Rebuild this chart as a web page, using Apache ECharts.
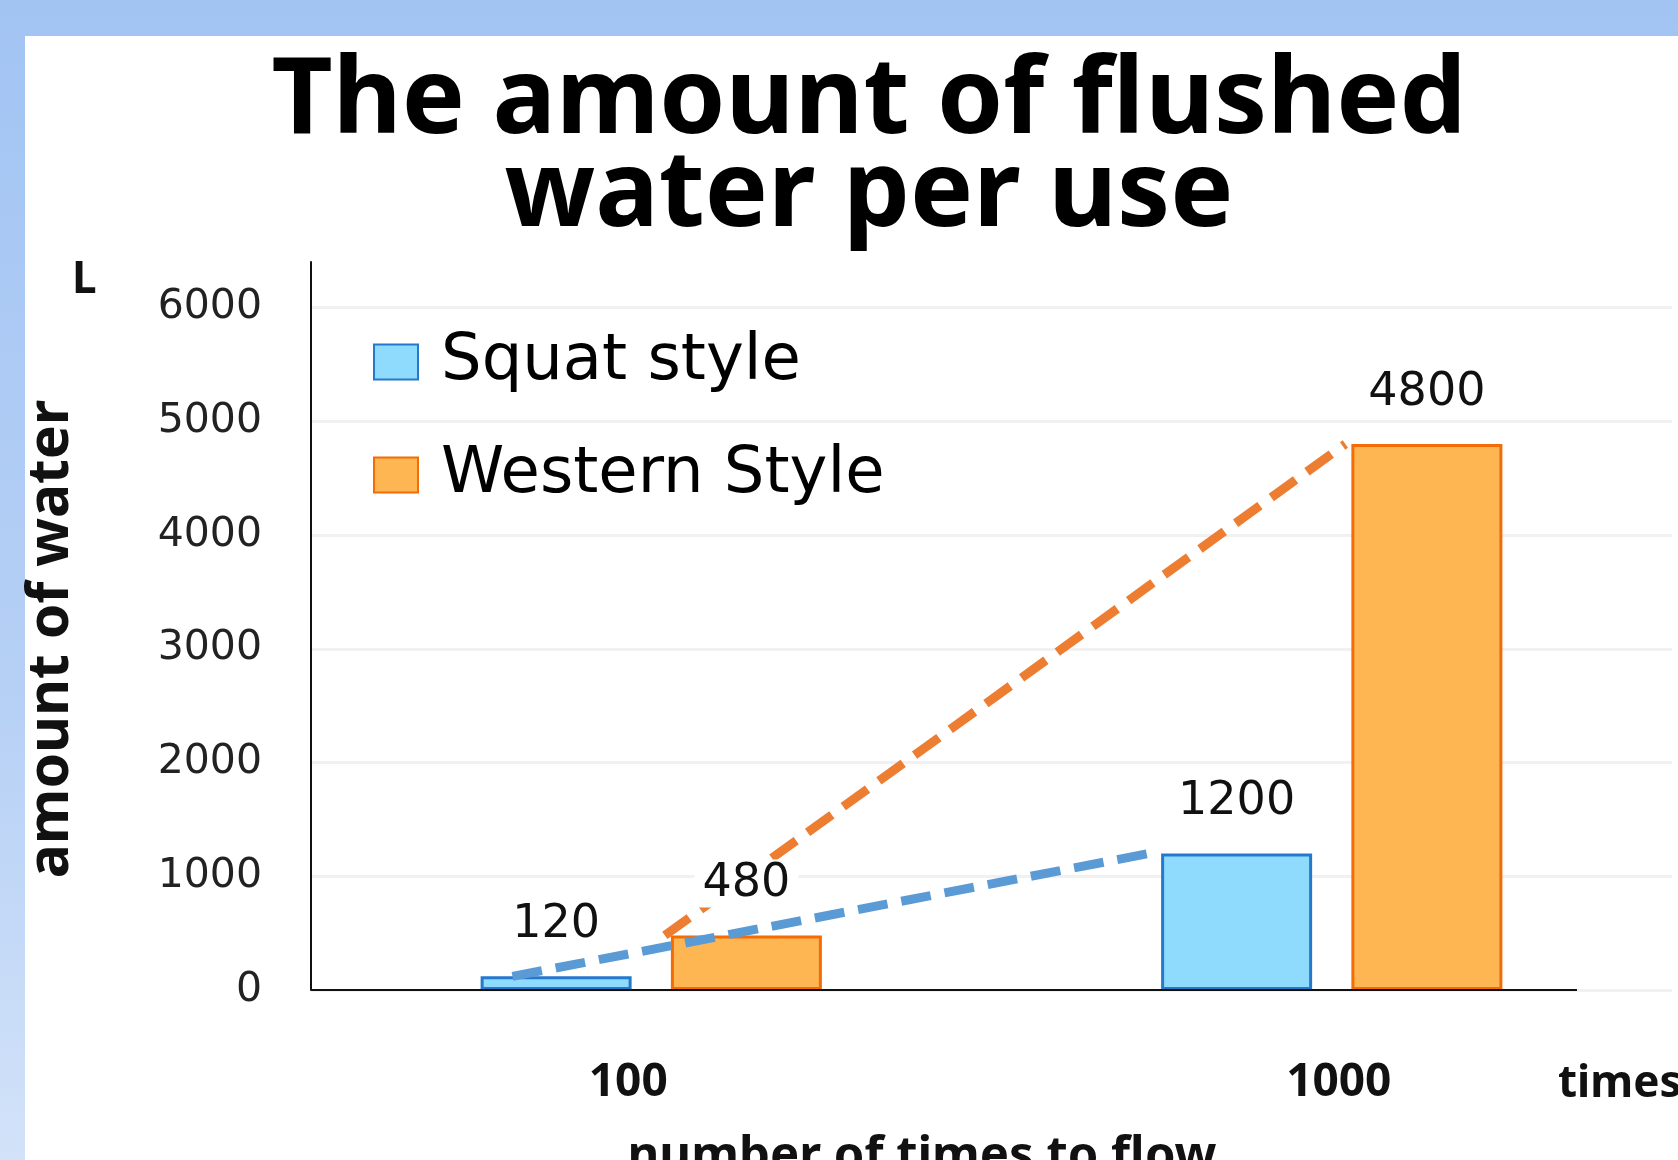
<!DOCTYPE html>
<html lang="en">
<head>
    <meta charset="UTF-8">
    <title>The amount of flushed water per use</title>
    <script src="https://cdn.jsdelivr.net/npm/echarts@6/dist/echarts.min.js"></script>
</head>

<style>
    html, body {
        margin: 0;
        width: 1678px;
        height: 1160px;
        overflow: hidden;
        background: linear-gradient(to bottom, #a2c4f3 0%, #b6d0f5 60%, #d2e2f9 100%);
    }

    #panel {
        position: absolute;
        left: 25px;
        top: 36px;
        right: 0;
        bottom: 0;
        background: #ffffff;
    }

    #Chart1 {
        position: absolute;
        left: 0;
        top: 0;
        width: 1678px;
        height: 1160px;
    }
</style>

<body>
    <div id="panel"></div>
    <div id="Chart1"></div>
</body>

<script>

// data
const categories = ['100', '1000'];
const squat = [120, 1200];
const western = [480, 4800];
const yTicks = [0, 1000, 2000, 3000, 4000, 5000, 6000];

// where the dashed trend lines meet each bar group (offset from category centre, in bands)
const squatTrendOffset = [-0.204, -0.269];
const westernTrendOffset = [0.02, 0.02];

const gridLeft = 311, gridTop = 262, gridBottom = 170, gridRight = 6;
const axisEndX = 1577;

const BLUE_FILL = '#8fdbfd', BLUE_BORDER = '#2479cc';
const ORANGE_FILL = '#fdb652', ORANGE_BORDER = '#f46c05';

let myChart1 = echarts.init(document.getElementById('Chart1'));

function trendPoints(values, offsets) {
    return values.map(function (v, i) {
        return [i + 0.5 + offsets[i], v];
    });
}

function labelOf(values) {
    return {
        show: true,
        position: 'top',
        distance: 28,
        formatter: function (p) { return String(values[p.dataIndex]); },
        fontFamily: 'DejaVu Sans',
        fontSize: 46,
        color: '#111',
        backgroundColor: '#ffffff',
        padding: [2, 8, 0, 8]
    };
}

// faint grid lines at the ticks, none at the top edge of the plot
const splitColors = yTicks.map(function () { return '#f1f1f1'; }).concat(['rgba(0,0,0,0)']);

var option = {
    animation: false,
    backgroundColor: 'transparent',
    title: {
        text: 'The amount of flushed\nwater per use',
        left: 864,
        top: 51,
        textAlign: 'center',
        textStyle: {
            fontFamily: 'Noto Sans',
            fontWeight: 'bold',
            fontSize: 106,
            lineHeight: 93,
            color: '#000'
        }
    },
    legend: {
        data: ['Squat style', 'Western Style'],
        orient: 'vertical',
        left: 368,
        top: 325,
        itemWidth: 44,
        itemHeight: 35,
        itemGap: 49,
        icon: 'rect',
        textStyle: {
            fontFamily: 'DejaVu Sans',
            fontSize: 64,
            lineHeight: 64,
            color: '#000',
            padding: [0, 0, 0, 18]
        }
    },
    grid: {
        left: gridLeft,
        top: gridTop,
        right: gridRight,
        bottom: gridBottom,
        containLabel: false,
        outerBoundsMode: 'none'
    },
    xAxis: [
        {
            type: 'category',
            data: categories,
            axisLine: { show: false },
            axisTick: { show: false },
            axisLabel: {
                margin: 70,
                formatter: function (v, i) {
                    return '{c' + i + '|' + v + '}';
                },
                rich: {
                    c0: { padding: [0, 46, 0, 0] },
                    c1: { padding: [0, 0, 0, 14] }
                },
                fontFamily: 'Noto Sans',
                fontWeight: 'bold',
                fontSize: 46,
                color: '#111'
            }
        },
        {
            type: 'value',
            min: 0,
            max: categories.length,
            show: false
        }
    ],
    yAxis: {
        type: 'value',
        min: yTicks[0],
        max: 6400,
        interval: 1000,
        name: 'amount of water',
        nameLocation: 'middle',
        nameRotate: 90,
        nameGap: 231,
        nameTextStyle: {
            fontFamily: 'Noto Sans',
            fontWeight: 'bold',
            fontSize: 57,
            color: '#111',
            padding: [0, 26, 0, 0]
        },
        axisLine: { show: true, lineStyle: { color: '#111', width: 2 } },
        axisTick: { show: false },
        axisLabel: {
            showMaxLabel: false,
            margin: 49,
            formatter: function (v) { return String(v); },
            fontFamily: 'DejaVu Sans',
            fontSize: 41,
            color: '#222'
        },
        splitLine: { show: true, lineStyle: { color: splitColors, width: 3 } }
    },
    graphic: [
        {
            type: 'line',
            z: 10,
            shape: { x1: gridLeft, y1: 1160 - gridBottom, x2: axisEndX, y2: 1160 - gridBottom },
            style: { stroke: '#111', lineWidth: 2 }
        },
        {
            type: 'text',
            left: 72,
            top: 258,
            style: { text: 'L', fontFamily: 'Noto Sans', fontWeight: 'bold', fontSize: 44, fill: '#111' }
        },
        {
            type: 'text',
            left: 1558,
            top: 1062,
            style: { text: 'times', fontFamily: 'Noto Sans', fontWeight: 'bold', fontSize: 44, fill: '#111' }
        },
        {
            type: 'text',
            x: 922,
            y: 1133,
            style: {
                text: 'number of times to flow',
                fontFamily: 'Noto Sans',
                fontWeight: 'bold',
                fontSize: 49,
                fill: '#111',
                align: 'center',
                verticalAlign: 'top'
            }
        }
    ],
    series: [
        {
            name: 'Squat style',
            type: 'bar',
            stack: 'squat',
            z: 2,
            barWidth: 151,
            barGap: '26%',
            data: squat,
            itemStyle: { color: BLUE_FILL, borderColor: BLUE_BORDER, borderWidth: 3 }
        },
        {
            name: 'Western Style',
            type: 'bar',
            stack: 'western',
            z: 2,
            barWidth: 151,
            barGap: '26%',
            data: western,
            itemStyle: { color: ORANGE_FILL, borderColor: ORANGE_BORDER, borderWidth: 3 }
        },
        {
            name: 'squat trend',
            type: 'line',
            xAxisIndex: 1,
            z: 3,
            symbol: 'none',
            data: trendPoints(squat, squatTrendOffset),
            lineStyle: { color: '#5b9bd5', width: 9, type: [30, 14], cap: 'butt' }
        },
        {
            name: 'western trend',
            type: 'line',
            xAxisIndex: 1,
            z: 3,
            symbol: 'none',
            data: trendPoints(western, westernTrendOffset),
            lineStyle: { color: '#ed7d31', width: 9, type: [30, 14], cap: 'butt' }
        },
        // zero-height bars on top of each stack, only to carry the value labels above the lines
        {
            name: 'squat label',
            type: 'bar',
            stack: 'squat',
            z: 4,
            data: squat.map(function () { return 0; }),
            itemStyle: { color: 'transparent' },
            label: labelOf(squat)
        },
        {
            name: 'western label',
            type: 'bar',
            stack: 'western',
            z: 4,
            data: western.map(function () { return 0; }),
            itemStyle: { color: 'transparent' },
            label: labelOf(western)
        }
    ]
};

myChart1.setOption(option, true);

</script>
</html>
